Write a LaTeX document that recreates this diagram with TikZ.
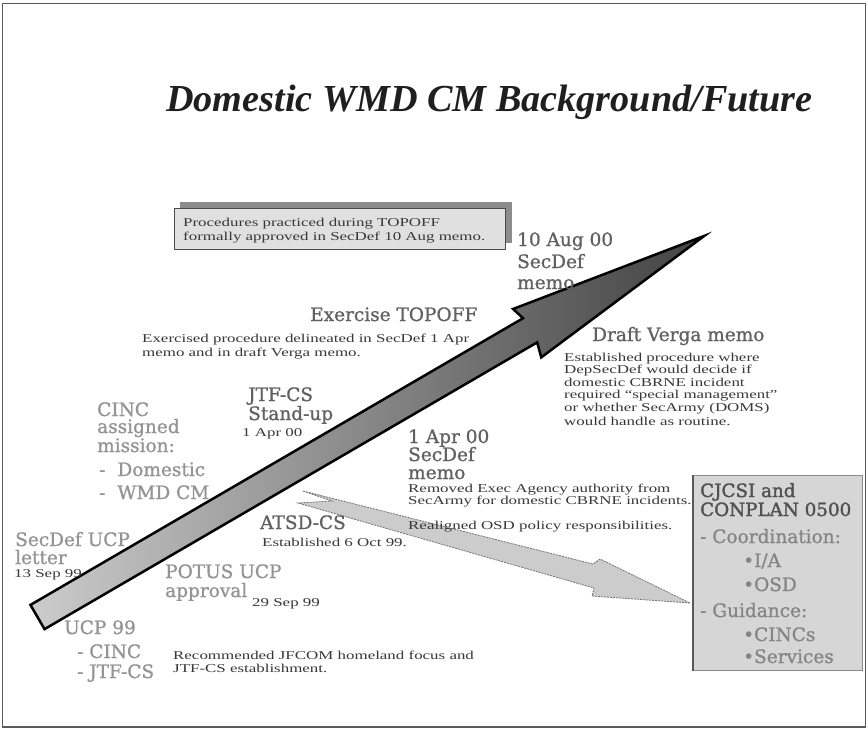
\documentclass[tikz,border=0pt]{standalone}
\usepackage{fontspec}
\setmainfont{Liberation Serif}
\newfontfamily\headf[FakeBold=1.0]{DejaVu Serif}
\newfontfamily\headbf[FakeBold=1.8]{DejaVu Serif}
\newfontfamily\smallf[FakeStretch=1.41]{Liberation Serif}
\newfontfamily\titlef{Liberation Serif}
\tikzset{
  hd/.style={anchor=base west, inner sep=0pt, font=\headf\fontsize{18.5}{20}\selectfont, text=black!62},
  hdl/.style={hd, text=black!42},
  bx/.style={hd, text=black!48},
  bxh/.style={hd, text=black!68, font=\headbf\fontsize{18.3}{20}\selectfont},
  sm/.style={anchor=base west, inner sep=0pt, font=\smallf\fontsize{12}{14}\selectfont, text=black!78},
}
\begin{document}
\begin{tikzpicture}[x=1pt,y=-1pt]
\fill[white] (0,0) rectangle (868,729);
\useasboundingbox (0,0) rectangle (868,729);
\draw[black!65, line width=1.5pt] (2.5,3.5) rectangle (865.5,727);

% title
\node[anchor=base west, inner sep=0pt, text=black!88, font=\titlef\bfseries\itshape\fontsize{38.2}{42}\selectfont] (title) at (166,111) {Domestic WMD CM Background/Future};

% procedures box
\fill[black!45] (180,202) rectangle (512,243);
\node[draw=black!70, line width=1.2pt, fill=black!12, minimum width=331pt, minimum height=41pt, anchor=north west, inner sep=0pt] (procbox) at (174,208) {};
\node[sm] (proc1) at (183,226) {Procedures practiced during TOPOFF};
\node[sm] (proc2) at (183,240) {formally approved in SecDef 10 Aug memo.};

% big arrow
\begin{scope}[shift={(37.5,617)}, rotate=30.2]
\shade[left color=black!20, right color=black!74, draw=black, line width=2.5pt, line join=miter]
  (0,-14) -- (570,-14) -- (566,-27) -- (768,6) -- (566,29) -- (570,14) -- (0,14) -- cycle;
\end{scope}

% light arrow to CJCSI box
\filldraw[fill=black!20, draw=black!55, line width=0.8pt, dash pattern=on 2pt off 1pt]
  (303,491) -- (593,564) -- (600,559) -- (690,603) -- (592,596) -- (594,588) -- (298,503) -- (332,501) -- cycle;

% 10 Aug 00
\node[hd] (aug1) at (517,246) {10 Aug 00};
\node[hd] (aug2) at (517,268) {SecDef};
\node[hd] (aug3) at (517,289) {memo};

% Exercise TOPOFF
\node[hd] (topoff) at (310,321) {Exercise TOPOFF};
\node[sm] (topoff1) at (142,342) {Exercised procedure delineated in SecDef 1 Apr};
\node[sm] (topoff2) at (142,356) {memo and in draft Verga memo.};

% Draft Verga memo
\node[hd] (verga) at (592,341) {Draft Verga memo};
\node[sm] (verga1) at (564,361) {Established procedure where};
\node[sm] (verga2) at (564,373.5) {DepSecDef would decide if};
\node[sm] (verga3) at (564,386) {domestic CBRNE incident};
\node[sm] (verga4) at (564,398.5) {required “special management”};
\node[sm] (verga5) at (564,411) {or whether SecArmy (DOMS)};
\node[sm] (verga6) at (564,425) {would handle as routine.};

% JTF-CS Stand-up
\node[hd] (jtf1) at (248,401) {JTF-CS};
\node[hd] (jtf2) at (248,420) {Stand-up};
\node[sm] (jtf3) at (242,436) {1 Apr 00};

% CINC assigned mission
\node[hdl] (cinc1) at (97,416) {CINC};
\node[hdl] (cinc2) at (97,433) {assigned};
\node[hdl] (cinc3) at (97,452) {mission:};
\node[hdl] (cinc4) at (99,476) {-\hspace{12pt}Domestic};
\node[hdl] (cinc5) at (99,499) {-\hspace{12pt}WMD CM};

% 1 Apr 00 SecDef memo
\node[hd] (apr1) at (408,443) {1 Apr 00};
\node[hd] (apr2) at (408,461) {SecDef};
\node[hd] (apr3) at (408,479) {memo};
\node[sm] (apr4) at (408,492) {Removed Exec Agency authority from};
\node[sm] (apr5) at (408,504) {SecArmy for domestic CBRNE incidents.};
\node[sm] (apr6) at (408,529) {Realigned OSD policy responsibilities.};

% ATSD-CS
\node[hd] (atsd) at (260,529) {ATSD-CS};
\node[sm] (atsd1) at (262,546) {Established 6 Oct 99.};

% SecDef UCP letter
\node[hdl] (sdl1) at (15,546) {SecDef UCP};
\node[hdl] (sdl2) at (15,564) {letter};
\node[sm] (sdl3) at (14,577) {13 Sep 99};

% POTUS UCP approval
\node[hdl] (potus1) at (165,578) {POTUS UCP};
\node[hdl] (potus2) at (165,597) {approval};
\node[sm] (potus3) at (252,606) {29 Sep 99};

% UCP 99
\node[hdl] (ucp1) at (64,634) {UCP 99};
\node[hdl] (ucp2) at (77,658) {- CINC};
\node[hdl] (ucp3) at (77,678) {- JTF-CS};
\node[sm] (ucp4) at (173,659) {Recommended JFCOM homeland focus and};
\node[sm] (ucp5) at (173,672) {JTF-CS establishment.};

% CJCSI box
\node[draw=black!45, line width=1pt, fill=black!16, minimum width=169pt, minimum height=195pt, anchor=north west, inner sep=0pt] (cjcsi) at (693,475) {};
\draw[black!65, line width=2.2pt] (cjcsi.north west) -- (cjcsi.south west);
\node[bxh] (cj1) at (700,497) {CJCSI and};
\node[bxh] (cj2) at (700,516) {CONPLAN 0500};
\node[bx] (cj3) at (700,543) {- Coordination:};
\node[bx] (cj4) at (743,567) {\textbullet I/A};
\node[bx] (cj5) at (743,591) {\textbullet OSD};
\node[bx] (cj6) at (700,617) {- Guidance:};
\node[bx] (cj7) at (743,641) {\textbullet CINCs};
\node[bx] (cj8) at (743,663) {\textbullet Services};
\end{tikzpicture}
\end{document}
